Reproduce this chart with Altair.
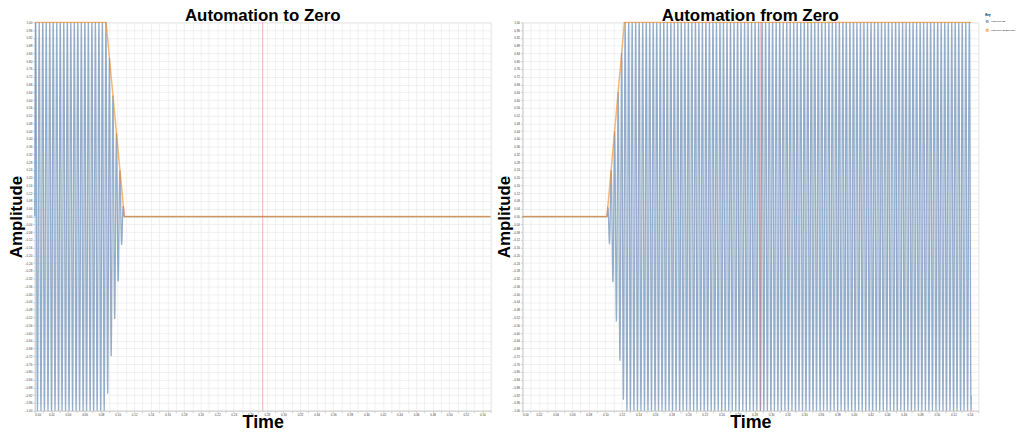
import numpy as np
import pandas as pd
import altair as alt

# ---- data ----
T_END = 0.55            # time axis end (s)
FREQ = 236              # tone frequency (Hz)
SAMPLES_PER_CYCLE = 16  # drawing resolution

series_names = ["Logic Gen Off", "Logic Gen Off Envelope"]
series_colors = ["#4c78a8", "#f58518"]

# envelope breakpoints (time, gain)
left_env_t = [0.0, 0.086, 0.108, 0.55]
left_env_a = [1.0, 1.0, 0.0, 0.0]
right_env_t = [0.0, 0.102, 0.123, 0.5416]
right_env_a = [0.0, 0.0, 1.0, 1.0]

left_marker_t = [0.275]
right_marker_t = [0.2876]

y_ticks = [round(-1 + 0.04 * i, 2) for i in range(51)]
x_ticks = [round(0.01 * i, 2) for i in range(56)]


def signal_frame(env_t, env_a):
    t = np.arange(0, env_t[-1], 1.0 / (FREQ * SAMPLES_PER_CYCLE))
    g = np.interp(t, env_t, env_a)
    a = g * np.sin(2 * np.pi * FREQ * t)
    return pd.DataFrame({"t": t, "a": a, "series": series_names[0]})


def env_frame(env_t, env_a):
    return pd.DataFrame({"t": env_t, "a": env_a, "series": series_names[1]})


color_scale = alt.Scale(domain=series_names, range=series_colors)
x_scale = alt.Scale(domain=[0, T_END], nice=False, zero=False)
y_scale = alt.Scale(domain=[-1, 1], nice=False)

x_axis = alt.Axis(values=x_ticks, format=".2f", title="Time",
                  titleBaseline="alphabetic", titleY=17)
y_axis = alt.Axis(values=y_ticks, format=".2f", title="Amplitude",
                  titleBaseline="alphabetic", titleX=-13)
legend = alt.Legend(title="Key", orient="none", legendX=957, legendY=-8,
                    titleFontSize=3, labelFontSize=2.3, symbolSize=4,
                    symbolType="circle", rowPadding=1, titlePadding=2,
                    labelOffset=2, labelLimit=200)


def panel(title, env_t, env_a, marker_t, width):
    sig = alt.Chart(signal_frame(env_t, env_a)).mark_line(
        strokeWidth=1.3, opacity=0.6
    ).encode(
        x=alt.X("t:Q", scale=x_scale, axis=x_axis),
        y=alt.Y("a:Q", scale=y_scale, axis=y_axis),
        color=alt.Color("series:N", scale=color_scale, legend=legend),
    )
    env = alt.Chart(env_frame(env_t, env_a)).mark_line(
        strokeWidth=1.5, opacity=0.6
    ).encode(
        x=alt.X("t:Q", scale=x_scale, axis=x_axis),
        y=alt.Y("a:Q", scale=y_scale, axis=y_axis),
        color=alt.Color("series:N", scale=color_scale, legend=legend),
    )
    rule = alt.Chart(pd.DataFrame({"t": marker_t})).mark_rule(
        color="#e45756", opacity=0.45, strokeWidth=1
    ).encode(x=alt.X("t:Q", scale=x_scale, axis=x_axis))
    return alt.layer(sig, env, rule).properties(
        width=width, height=391,
        title=alt.TitleParams(title, fontSize=17, font="Liberation Sans",
                              fontWeight="bold", anchor="middle", offset=-6,
                              color="#000"),
    )


left = panel("Automation to Zero", left_env_t, left_env_a, left_marker_t, 459)
right = panel("Automation from Zero", right_env_t, right_env_a, right_marker_t, 459)

chart = alt.hconcat(left, right, spacing=0).properties(
    padding={"top": -3, "left": -1, "right": 0, "bottom": 0}, background="white"
).configure_axis(
    labelFontSize=3, labelColor="#444", tickSize=2, tickColor="#ccc",
    labelPadding=1, titleFontSize=17, titleFont="Liberation Sans",
    titleFontWeight="bold", titleColor="#000", titlePadding=2,
    gridColor="#ececec", gridWidth=0.8, domainColor="#cfcfcf",
).configure_axisX(titleFontSize=18).configure_view(stroke="#e6e6e6")

chart.save("out.html", embed_options={"renderer": "svg", "actions": False})
